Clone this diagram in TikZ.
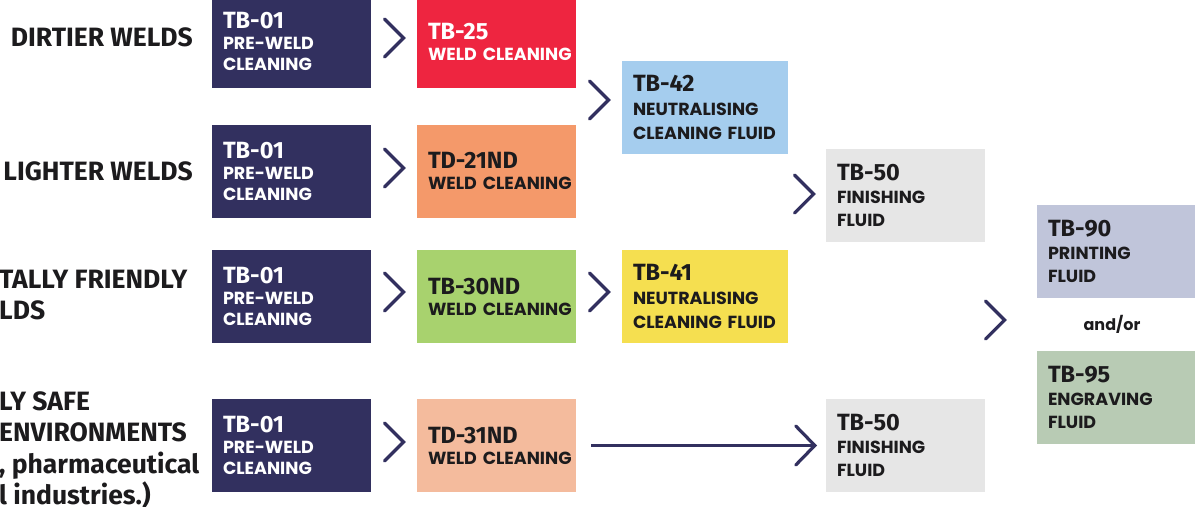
\documentclass[tikz,border=0pt]{standalone}
\usepackage{fontspec}
\setmainfont{Fira Sans}
\newfontfamily\subfont{Poppins}
\usetikzlibrary{calc}
\hyphenpenalty=10000
\exhyphenpenalty=10000

\definecolor{navy}{HTML}{32305F}
\definecolor{ink}{HTML}{1C1B1D}
\definecolor{weldred}{HTML}{EE2540}
\definecolor{weldorange}{HTML}{F4996A}
\definecolor{weldgreen}{HTML}{A8D26E}
\definecolor{weldpeach}{HTML}{F4BB9D}
\definecolor{neutblue}{HTML}{A5CDEE}
\definecolor{neutyellow}{HTML}{F5DF50}
\definecolor{finishgrey}{HTML}{E6E6E6}
\definecolor{printlilac}{HTML}{C0C5DA}
\definecolor{engravesage}{HTML}{B8CBB4}

\newcommand{\prodcode}[1]{{\rmfamily\bfseries\fontsize{23.5}{21}\selectfont #1}}

\tikzset{
  prodbox/.style={minimum width=159pt, minimum height=93pt, inner xsep=11pt,
    inner ysep=0pt, text width=137pt, align=left, text=ink,
    font=\subfont\bfseries\fontsize{17.5}{21}\selectfont},
  widebox/.style={prodbox, minimum width=166pt, text width=144pt,
    font=\subfont\bfseries\fontsize{17.5}{24}\selectfont},
  grouplabel/.style={inner sep=0pt, text=ink, align=left,
    font=\rmfamily\bfseries\fontsize{26.5}{31.5}\selectfont},
  chev/.pic={\draw[navy, line width=3.2pt, line cap=round, line join=miter]
    (-9.5,-19) -- (9.5,0) -- (-9.5,19);},
  tipchev/.pic={\draw[navy, line width=3.2pt, line cap=round, line join=miter]
    (-19,-19.5) -- (0,0) -- (-19,19.5);}
}

\begin{document}
\begin{tikzpicture}[x=1pt, y=-1pt]
  \useasboundingbox (0,0) rectangle (1199,506);

  % weld types
  \node[grouplabel, anchor=east] (l1) at (193,37) {DIRTIER WELDS};
  \node[grouplabel, anchor=east] (l2) at (193,171) {LIGHTER WELDS};
  \node[grouplabel, anchor=west] (l3) at (-1,295) {TALLY FRIENDLY\\LDS};
  \node[grouplabel, anchor=west] (l4) at (-1,450)
    {LY SAFE\\ENVIRONMENTS\\, pharmaceutical\\l industries.)};

  % pre-weld cleaning
  \foreach \r/\y in {1/41.5, 2/171, 3/296.5, 4/445.5}
    \node[prodbox, fill=navy, text=white] (p\r) at (291.5,\y)
      {\prodcode{TB-01}\\PRE-WELD\\CLEANING};

  % weld cleaning
  \node[prodbox, fill=weldred, text=white] (c25) at (496.5,41.5)
    {\prodcode{TB-25}\\WELD~CLEANING};
  \node[prodbox, fill=weldorange] (c21) at (496.5,171)
    {\prodcode{TD-21ND}\\WELD~CLEANING};
  \node[prodbox, fill=weldgreen] (c30) at (496.5,296.5)
    {\prodcode{TB-30ND}\\WELD~CLEANING};
  \node[prodbox, fill=weldpeach] (c31) at (496.5,445.5)
    {\prodcode{TD-31ND}\\WELD~CLEANING};

  % neutralising
  \node[widebox, fill=neutblue] (n42) at (705,107)
    {\prodcode{TB-42}\\NEUTRALISING\\CLEANING~FLUID};
  \node[widebox, fill=neutyellow] (n41) at (705,296.5)
    {\prodcode{TB-41}\\NEUTRALISING\\CLEANING~FLUID};

  % finishing
  \node[prodbox, fill=finishgrey, font=\subfont\bfseries\fontsize{17.5}{23}\selectfont]
    (f50a) at (905.5,195.5) {\prodcode{TB-50}\\FINISHING\\FLUID};
  \node[prodbox, fill=finishgrey, font=\subfont\bfseries\fontsize{17.5}{23}\selectfont]
    (f50b) at (905.5,445.5) {\prodcode{TB-50}\\FINISHING\\FLUID};

  % marking
  \node[prodbox, minimum width=158pt, text width=136pt, fill=printlilac,
    font=\subfont\bfseries\fontsize{17.5}{23}\selectfont]
    (m90) at (1116,251.5) {\prodcode{TB-90}\\PRINTING\\FLUID};
  \node[prodbox, minimum width=158pt, text width=136pt, fill=engravesage,
    font=\subfont\bfseries\fontsize{17.5}{23}\selectfont]
    (m95) at (1116,397.5) {\prodcode{TB-95}\\ENGRAVING\\FLUID};
  \node[text=ink, font=\subfont\bfseries\fontsize{16}{17}\selectfont]
    (andor) at (1112,324) {and/or};

  % steps
  \foreach \y in {38, 168, 292, 442}
    \pic at (394,\y) {chev};
  \pic at (599,100) {chev};
  \pic at (599,292) {chev};
  \pic at (804,194) {chev};
  \pic at (995,320) {chev};

  \draw[navy, line width=2.5pt] ([xshift=15pt]c31.east) -- ([xshift=-11pt]f50b.west);
  \pic at ([xshift=-11pt]f50b.west) {tipchev};
\end{tikzpicture}
\end{document}
